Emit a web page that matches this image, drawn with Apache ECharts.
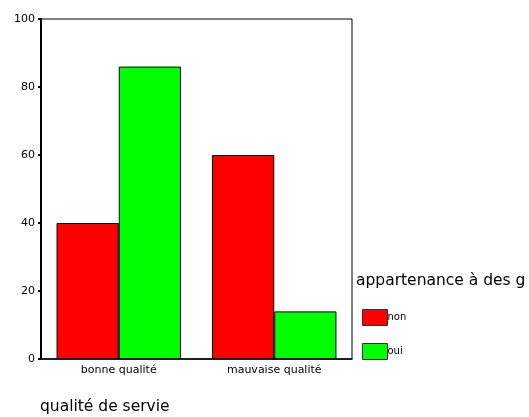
<!DOCTYPE html>
<html><head><meta charset="utf-8">
<script src="https://cdn.jsdelivr.net/npm/echarts@6/dist/echarts.min.js"></script>
<style>html,body{margin:0;padding:0;background:#fff}#c{width:529px;height:417px}</style>
</head><body><div id="c"></div>
<script>
const categories = ['bonne qualité', 'mauvaise qualité'];
const seriesNames = ['non', 'oui'];
const nonValues = [40, 60];
const ouiValues = [86, 14];
const yTicks = [0, 20, 40, 60, 80, 100];

const F = 'DejaVu Sans';
const chart = echarts.init(document.getElementById('c'));
chart.setOption({
  animation: false,
  title: [
    { text: 'qualité de servie', left: 40, top: 399, padding: 0, textStyle: { fontFamily: F, fontSize: 15.5, fontWeight: 'normal', color: '#000' } },
    { text: 'appartenance à des g', left: 356, top: 273, padding: 0, textStyle: { fontFamily: F, fontSize: 15.5, fontWeight: 'normal', color: '#000' } }
  ],
  grid: { left: 41, right: 177, top: 19, bottom: 58, show: true, borderColor: '#000', borderWidth: 1, backgroundColor: '#fff' },
  legend: {
    orient: 'vertical', left: 362, top: 309, padding: 0, itemWidth: 25, itemHeight: 16, itemGap: 17,
    icon: 'rect',
    data: seriesNames,
    textStyle: { fontFamily: F, fontSize: 10, color: '#000', padding: [8, 0, 0, -5] },
    itemStyle: { borderColor: '#333', borderWidth: 1 }
  },
  xAxis: {
    type: 'category', data: categories,
    axisLine: { lineStyle: { color: '#000', width: 1.5 } },
    axisTick: { alignWithLabel: true, length: 3, lineStyle: { color: '#000', width: 2 } },
    axisLabel: { fontFamily: F, fontSize: 11, color: '#000', margin: 6 }
  },
  yAxis: {
    type: 'value', min: 0, max: 100, interval: 20,
    axisLine: { show: true, lineStyle: { color: '#000', width: 2 } },
    axisTick: { show: true, length: 3, lineStyle: { color: '#000', width: 2 } },
    splitLine: { show: false },
    axisLabel: { fontFamily: F, fontSize: 11, color: '#000', margin: 6,
      formatter: v => yTicks.includes(v) ? String(v) : '' }
  },
  series: [
    { name: seriesNames[0], type: 'bar', data: nonValues, barGap: '0%', barCategoryGap: '20%',
      itemStyle: { color: '#ff0000', borderColor: '#000', borderWidth: 1 } },
    { name: seriesNames[1], type: 'bar', data: ouiValues,
      itemStyle: { color: '#00ff00', borderColor: '#000', borderWidth: 1 } }
  ]
});
</script></body></html>
